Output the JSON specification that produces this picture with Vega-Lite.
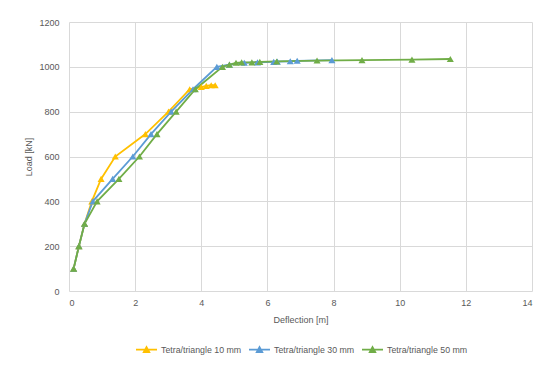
{
  "$schema": "https://vega.github.io/schema/vega-lite/v6.json",
  "autosize": "none",
  "width": 463,
  "height": 269,
  "padding": {"left": 69, "top": 22, "right": 23, "bottom": 80},
  "background": "white",
  "config": {
    "font": "Liberation Sans",
    "view": {"stroke": null},
    "axis": {
      "labelFont": "Liberation Sans",
      "labelFontSize": 9,
      "labelColor": "#595959",
      "titleFont": "Liberation Sans",
      "titleFontSize": 9,
      "titleFontWeight": "normal",
      "titleColor": "#595959",
      "gridColor": "#D9D9D9",
      "gridWidth": 1,
      "ticks": false,
      "domain": false
    },
    "legend": {
      "labelFont": "Liberation Sans",
      "labelFontSize": 8.8,
      "labelColor": "#595959"
    }
  },
  "data": {
    "values": [
      {"series": "Tetra/triangle 10 mm", "deflection": 0.14, "load": 100},
      {"series": "Tetra/triangle 10 mm", "deflection": 0.3, "load": 200},
      {"series": "Tetra/triangle 10 mm", "deflection": 0.47, "load": 300},
      {"series": "Tetra/triangle 10 mm", "deflection": 0.69, "load": 400},
      {"series": "Tetra/triangle 10 mm", "deflection": 0.97, "load": 500},
      {"series": "Tetra/triangle 10 mm", "deflection": 1.4, "load": 600},
      {"series": "Tetra/triangle 10 mm", "deflection": 2.31, "load": 700},
      {"series": "Tetra/triangle 10 mm", "deflection": 3.01, "load": 800},
      {"series": "Tetra/triangle 10 mm", "deflection": 3.65, "load": 900},
      {"series": "Tetra/triangle 10 mm", "deflection": 4.0, "load": 910},
      {"series": "Tetra/triangle 10 mm", "deflection": 4.15, "load": 915},
      {"series": "Tetra/triangle 10 mm", "deflection": 4.3, "load": 918},
      {"series": "Tetra/triangle 10 mm", "deflection": 4.42, "load": 918},
      {"series": "Tetra/triangle 30 mm", "deflection": 0.14, "load": 100},
      {"series": "Tetra/triangle 30 mm", "deflection": 0.3, "load": 200},
      {"series": "Tetra/triangle 30 mm", "deflection": 0.47, "load": 300},
      {"series": "Tetra/triangle 30 mm", "deflection": 0.72, "load": 400},
      {"series": "Tetra/triangle 30 mm", "deflection": 1.32, "load": 500},
      {"series": "Tetra/triangle 30 mm", "deflection": 1.93, "load": 600},
      {"series": "Tetra/triangle 30 mm", "deflection": 2.48, "load": 700},
      {"series": "Tetra/triangle 30 mm", "deflection": 3.09, "load": 800},
      {"series": "Tetra/triangle 30 mm", "deflection": 3.75, "load": 900},
      {"series": "Tetra/triangle 30 mm", "deflection": 4.47, "load": 1000},
      {"series": "Tetra/triangle 30 mm", "deflection": 4.85, "load": 1010},
      {"series": "Tetra/triangle 30 mm", "deflection": 5.3, "load": 1018},
      {"series": "Tetra/triangle 30 mm", "deflection": 5.7, "load": 1020},
      {"series": "Tetra/triangle 30 mm", "deflection": 6.19, "load": 1022},
      {"series": "Tetra/triangle 30 mm", "deflection": 6.3, "load": 1023},
      {"series": "Tetra/triangle 30 mm", "deflection": 6.69, "load": 1025},
      {"series": "Tetra/triangle 30 mm", "deflection": 6.9, "load": 1027},
      {"series": "Tetra/triangle 30 mm", "deflection": 7.95, "load": 1030},
      {"series": "Tetra/triangle 50 mm", "deflection": 0.14, "load": 100},
      {"series": "Tetra/triangle 50 mm", "deflection": 0.3, "load": 200},
      {"series": "Tetra/triangle 50 mm", "deflection": 0.47, "load": 300},
      {"series": "Tetra/triangle 50 mm", "deflection": 0.85, "load": 400},
      {"series": "Tetra/triangle 50 mm", "deflection": 1.51, "load": 500},
      {"series": "Tetra/triangle 50 mm", "deflection": 2.13, "load": 600},
      {"series": "Tetra/triangle 50 mm", "deflection": 2.66, "load": 700},
      {"series": "Tetra/triangle 50 mm", "deflection": 3.24, "load": 800},
      {"series": "Tetra/triangle 50 mm", "deflection": 3.82, "load": 900},
      {"series": "Tetra/triangle 50 mm", "deflection": 4.64, "load": 1000},
      {"series": "Tetra/triangle 50 mm", "deflection": 4.85, "load": 1010},
      {"series": "Tetra/triangle 50 mm", "deflection": 5.05, "load": 1018},
      {"series": "Tetra/triangle 50 mm", "deflection": 5.22, "load": 1020},
      {"series": "Tetra/triangle 50 mm", "deflection": 5.53, "load": 1020},
      {"series": "Tetra/triangle 50 mm", "deflection": 5.77, "load": 1022},
      {"series": "Tetra/triangle 50 mm", "deflection": 6.28, "load": 1024},
      {"series": "Tetra/triangle 50 mm", "deflection": 7.5, "load": 1028},
      {"series": "Tetra/triangle 50 mm", "deflection": 8.86, "load": 1030},
      {"series": "Tetra/triangle 50 mm", "deflection": 10.37, "load": 1032},
      {"series": "Tetra/triangle 50 mm", "deflection": 11.53, "load": 1035}
    ]
  },
  "mark": {
    "type": "line",
    "strokeWidth": 1.8,
    "point": {"shape": "triangle-up", "filled": true, "size": 50, "opacity": 1}
  },
  "encoding": {
    "x": {
      "field": "deflection",
      "type": "quantitative",
      "title": "Deflection [m]",
      "scale": {"domain": [0, 14], "nice": false, "zero": true},
      "axis": {"values": [0, 2, 4, 6, 8, 10, 12, 14], "format": "d", "labelPadding": 7, "titlePadding": 8}
    },
    "y": {
      "field": "load",
      "type": "quantitative",
      "title": "Load [kN]",
      "scale": {"domain": [0, 1200], "nice": false},
      "axis": {"values": [0, 200, 400, 600, 800, 1000, 1200], "format": "d", "labelPadding": 10, "titlePadding": 5}
    },
    "color": {
      "field": "series",
      "type": "nominal",
      "title": null,
      "scale": {
        "domain": ["Tetra/triangle 10 mm", "Tetra/triangle 30 mm", "Tetra/triangle 50 mm"],
        "range": ["#FFC000", "#5B9BD5", "#70AD47"]
      },
      "legend": {
        "orient": "none",
        "legendX": 66,
        "legendY": 316,
        "direction": "horizontal",
        "symbolType": "M-1,0H1M-0.26,0.24L0,-0.24L0.26,0.24Z",
        "symbolSize": 441,
        "symbolStrokeWidth": 1.8,
        "labelOffset": 3,
        "columnPadding": 3,
        "encode": {
          "symbols": {"update": {"fill": {"scale": "color", "field": "value"}, "stroke": {"scale": "color", "field": "value"}}}
        }
      }
    }
  }
}
